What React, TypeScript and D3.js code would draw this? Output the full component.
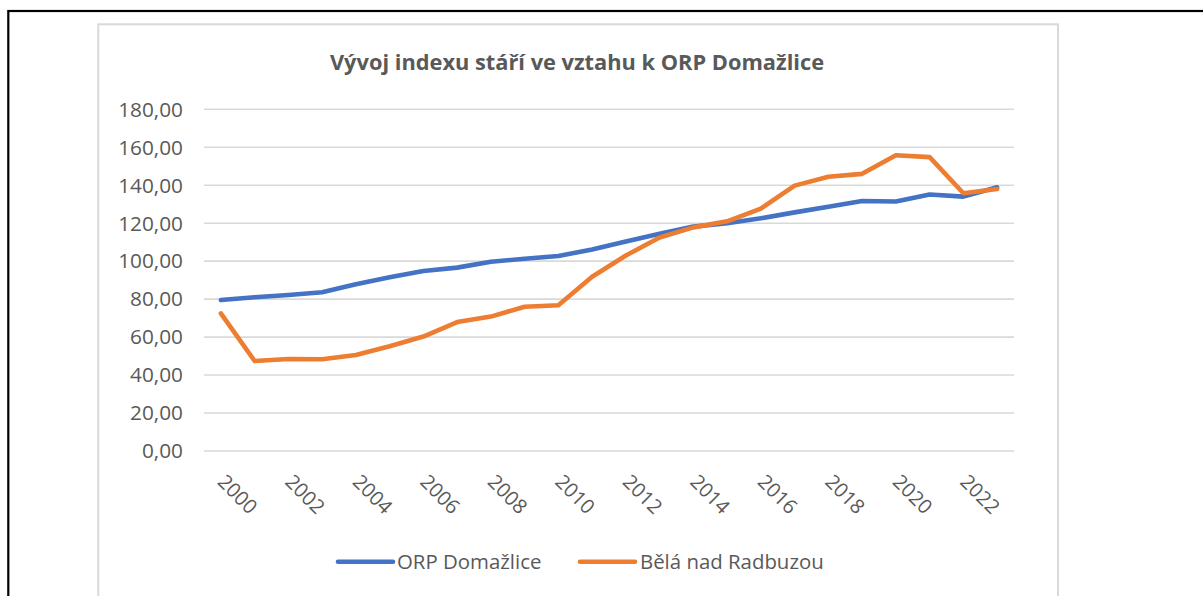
import React from "react";
import * as d3 from "d3";

const title = "Vývoj indexu stáří ve vztahu k ORP Domažlice";
const years = d3.range(2000, 2024);
const seriesNames = ["ORP Domažlice", "Bělá nad Radbuzou"];
const orpDomazlice = [79.5, 81.0, 82.2, 83.6, 87.8, 91.5, 94.8, 96.6, 99.7, 101.3, 102.7, 106.2, 110.3, 114.5, 118.2, 120.0, 122.6, 125.7, 128.7, 131.7, 131.4, 135.1, 134.0, 138.9];
const belaNadRadbuzou = [72.5, 47.4, 48.5, 48.3, 50.6, 55.2, 60.3, 67.9, 70.8, 76.0, 76.8, 91.8, 103.0, 112.5, 117.8, 121.0, 127.7, 139.8, 144.5, 146.0, 155.8, 154.8, 135.8, 138.0];
const colors = ["#4472C4", "#ED7D31"];
const yDomain = [0, 180];

const W = 1203;
const H = 596;
const FONT = "'Open Sans', 'Noto Sans', sans-serif";
const TEXT = "#595959";

const locale = d3.formatLocale({ decimal: ",", thousands: " ", grouping: [3], currency: ["", " Kč"] });
const fmt = locale.format(".2f");

export default function App() {
  const plotLeft = 204;
  const plotRight = 1014;
  const x = d3.scaleBand<number>().domain(years).range([plotLeft, plotRight]).padding(0);
  const y = d3.scaleLinear().domain(yDomain).range([451, 109.3]);
  const cx = (yr: number) => (x(yr) as number) + x.bandwidth() / 2;
  const line = d3
    .line<number>()
    .x((_, i) => cx(years[i]))
    .y((v) => y(v));
  const series = [orpDomazlice, belaNadRadbuzou];
  const yTicks = y.ticks(10);
  const xLabels = years.filter((yr) => (yr - 2000) % 2 === 0);

  const legendItems = [
    { x0: 338, x1: 393, tx: 397 },
    { x0: 580, x1: 635, tx: 640 },
  ];

  return (
    <div style={{ position: "absolute", left: 0, top: 0 }}>
      <svg width={W} height={H} style={{ display: "block", background: "#fff" }} fontFamily={FONT}>
        <rect x={8.3} y={11} width={1300} height={700} fill="none" stroke="#000" strokeWidth={2.2} />
        <rect x={98.3} y={24.3} width={1058 - 98.3} height={700} fill="#fff" stroke="#d9d9d9" strokeWidth={2} />
        <text x={577} y={69.5} textAnchor="middle" fontSize={21.8} fontWeight={700} fill={TEXT}>
          {title}
        </text>
        {yTicks.map((t) => (
          <g key={t}>
            <line x1={plotLeft} x2={plotRight} y1={y(t)} y2={y(t)} stroke="#d9d9d9" strokeWidth={1.6} />
            <text x={183} y={y(t) + 7.3} textAnchor="end" fontSize={20.8} fill={TEXT}>
              {fmt(t)}
            </text>
          </g>
        ))}
        {xLabels.map((yr) => (
          <text
            key={yr}
            transform={`translate(${cx(yr) - 4.5},${483}) rotate(45)`}
            textAnchor="start"
            fontSize={20}
            fill={TEXT}
          >
            {yr}
          </text>
        ))}
        {series.map((s, i) => (
          <path
            key={i}
            d={line(s) as string}
            fill="none"
            stroke={colors[i]}
            strokeWidth={4.6}
            strokeLinejoin="round"
            strokeLinecap="round"
          />
        ))}
        {legendItems.map((li, i) => (
          <g key={i}>
            <line x1={li.x0} x2={li.x1} y1={561.7} y2={561.7} stroke={colors[i]} strokeWidth={4.6} strokeLinecap="round" />
            <text x={li.tx} y={569} fontSize={20.4} fill={TEXT}>
              {seriesNames[i]}
            </text>
          </g>
        ))}
      </svg>
    </div>
  );
}
